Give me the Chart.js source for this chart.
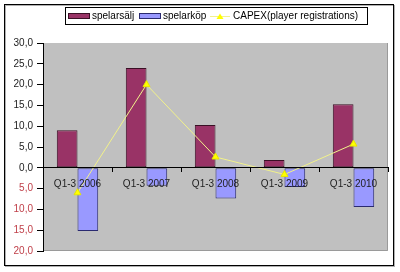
<!DOCTYPE html>
<html>
<head>
<meta charset="utf-8">
<script src="https://cdn.jsdelivr.net/npm/chart.js@4"></script>
<style>
  html, body { margin: 0; padding: 0; background: #fff; }
  #wrap { width: 400px; height: 272px; }
</style>
</head>
<body>
<div id="wrap"><canvas id="chart" width="400" height="272"></canvas></div>
<script>
// dữ liệu
const quarters = ["Q1-3 2006", "Q1-3 2007", "Q1-3 2008", "Q1-3 2009", "Q1-3 2010"];
const spelarsalj = [9.0, 24.0, 10.3, 1.9, 15.3];
const spelarkop = [-15.2, -4.3, -7.4, -4.6, -9.4];
const capex = [-6.0, 20.0, 2.6, -1.6, 5.7];
const yTicks = [-20, -15, -10, -5, 0, 5, 10, 15, 20, 25, 30];

const FONT = "'Liberation Sans', Arial, sans-serif";

// khung ngoài + nền xám của vùng vẽ
const framePlugin = {
  id: "frame",
  beforeDraw(chart) {
    const c = chart.ctx;
    const a = chart.chartArea;
    c.save();
    c.fillStyle = "#fff";
    c.fillRect(0, 0, chart.width, chart.height);
    c.strokeStyle = "#b0b0b0";
    c.strokeRect(5.5, 5.5, 389, 261);
    c.strokeStyle = "#000";
    c.strokeRect(4.5, 4.5, 389, 261);
    c.fillStyle = "#c0c0c0";
    c.fillRect(a.left, a.top, a.right - a.left, a.bottom - a.top);
    c.strokeStyle = "#9a9a9a";
    c.beginPath();
    c.moveTo(a.right - 0.5, a.top);
    c.lineTo(a.right - 0.5, a.bottom - 0.5);
    c.lineTo(a.left, a.bottom - 0.5);
    c.stroke();
    c.restore();
  },
  // chú thích tự vẽ, có viền
  afterDraw(chart) {
    const c = chart.ctx;
    const ds = chart.data.datasets;
    c.save();
    c.fillStyle = "#fff";
    c.fillRect(65.5, 7.5, 302, 17);
    c.strokeStyle = "#000";
    c.lineWidth = 1;
    c.strokeRect(65.5, 7.5, 302, 17);
    c.font = "10px " + FONT;
    c.textBaseline = "middle";
    // spelarsälj
    c.fillStyle = ds[0].backgroundColor;
    c.fillRect(68, 13, 22, 6);
    c.strokeStyle = ds[0].borderColor;
    c.strokeRect(68.5, 13.5, 21, 5);
    c.fillStyle = "#000";
    c.fillText(ds[0].label, 92, 16);
    // spelarköp
    c.fillStyle = ds[1].backgroundColor;
    c.fillRect(139, 13, 22, 6);
    c.strokeStyle = ds[1].borderColor;
    c.strokeRect(139.5, 13.5, 21, 5);
    c.fillStyle = "#000";
    c.fillText(ds[1].label, 163, 16);
    // CAPEX
    c.strokeStyle = ds[2].borderColor;
    c.beginPath();
    c.moveTo(210, 16.5);
    c.lineTo(230, 16.5);
    c.stroke();
    c.fillStyle = ds[2].pointBackgroundColor;
    c.beginPath();
    c.moveTo(220, 13.5);
    c.lineTo(223.5, 19);
    c.lineTo(216.5, 19);
    c.closePath();
    c.fill();
    c.fillStyle = "#000";
    c.fillText(ds[2].label, 233, 16);
    c.restore();
  }
};

const ctx = document.getElementById("chart").getContext("2d");
const chart = new Chart(ctx, {
  type: "bar",
  data: {
    labels: quarters,
    datasets: [
      {
        label: "spelarsälj",
        data: spelarsalj,
        backgroundColor: "#993366",
        borderColor: "#3a1025",
        borderWidth: 1,
        borderSkipped: false,
        categoryPercentage: 0.6,
        barPercentage: 1.0,
        order: 2,
      },
      {
        label: "spelarköp",
        data: spelarkop,
        backgroundColor: "#9999ff",
        borderColor: "#2a2a70",
        borderWidth: 1,
        borderSkipped: false,
        categoryPercentage: 0.6,
        barPercentage: 1.0,
        order: 2,
      },
      {
        type: "line",
        label: "CAPEX(player registrations)",
        data: capex,
        borderColor: "#f2f28a",
        borderWidth: 1,
        tension: 0,
        pointStyle: "triangle",
        pointRadius: 4,
        pointBackgroundColor: "#ffff00",
        pointBorderColor: "#e6e600",
        pointBorderWidth: 1,
        order: 0,
      },
    ],
  },
  options: {
    responsive: false,
    animation: false,
    events: [],
    layout: { padding: { left: 4, top: 43, right: 12, bottom: 21 } },
    plugins: {
      legend: { display: false },
      tooltip: { enabled: false },
    },
    scales: {
      x: {
        position: { y: 0 },
        offset: true,
        grid: {
          offset: true,
          drawOnChartArea: false,
          drawTicks: true,
          tickLength: 4,
          color: "#000",
          z: 1,
        },
        border: { color: "#000", width: 1, z: 1 },
        ticks: {
          color: "#222",
          font: { size: 10, family: FONT },
          padding: 6,
          maxRotation: 0,
          autoSkip: false,
          z: 2,
        },
      },
      y: {
        min: -20,
        max: 30,
        afterFit(scale) { scale.width = 39; },
        afterBuildTicks(scale) { scale.ticks = yTicks.map(v => ({ value: v })); },
        grid: {
          drawOnChartArea: false,
          drawTicks: true,
          tickLength: 6,
          color: "#000",
        },
        border: { color: "#000", width: 1 },
        ticks: {
          padding: 4,
          font: { size: 10, family: FONT },
          color: (c) => (c.tick && c.tick.value < 0 ? "#c0404a" : "#222"),
          callback: (v) => Math.abs(v).toFixed(1).replace(".", ","),
        },
      },
    },
  },
  plugins: [framePlugin],
});
</script>
</body>
</html>
